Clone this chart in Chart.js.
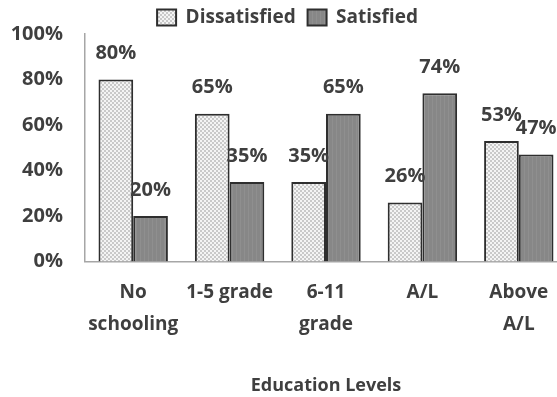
<!DOCTYPE html>
<html>
<head>
<meta charset="utf-8">
<script src="https://cdn.jsdelivr.net/npm/chart.js@4.4.1/dist/chart.umd.min.js"></script>
<style>
  html, body { margin: 0; padding: 0; background: #fff; overflow: hidden; }
  #wrap { width: 557px; height: 397px; overflow: hidden; }
</style>
</head>
<body>
<div id="wrap"><canvas id="chart" width="575" height="397"></canvas></div>
<script>
// data
const categories = [['No', 'schooling'], '1-5 grade', ['6-11', 'grade'], 'A/L', ['Above', 'A/L']];
const seriesNames = ['Dissatisfied', 'Satisfied'];
const dissatisfied = [80, 65, 35, 26, 53];
const satisfied = [20, 35, 65, 74, 47];
const yTicks = [0, 20, 40, 60, 80, 100];

const textColor = '#3f3f3f';
const fontFamily = '"Open Sans", "Liberation Sans", sans-serif';

// dotted light fill for the Dissatisfied bars
function dotPattern() {
  const c = document.createElement('canvas');
  c.width = 4; c.height = 4;
  const g = c.getContext('2d');
  g.fillStyle = '#c9c9c9';
  g.fillRect(0, 0, 4, 4);
  g.fillStyle = '#f4f4f4';
  g.fillRect(0, 0, 2, 2);
  g.fillRect(2, 2, 2, 2);
  return g.createPattern(c, 'repeat');
}

// darker grey fill for the Satisfied bars
function greyPattern() {
  const c = document.createElement('canvas');
  c.width = 4; c.height = 4;
  const g = c.getContext('2d');
  g.fillStyle = '#878787';
  g.fillRect(0, 0, 4, 4);
  g.fillStyle = '#8f8f8f';
  g.fillRect(0, 0, 1, 4);
  return g.createPattern(c, 'repeat');
}

// value labels above each bar (+ nudge the legend down a little)
const valueLabels = {
  id: 'valueLabels',
  afterLayout(chart) {
    chart.legend.top += 3;
    chart.legend.bottom += 3;
  },
  afterDatasetsDraw(chart) {
    const ctx = chart.ctx;
    ctx.save();
    ctx.font = 'bold 20px ' + fontFamily;
    ctx.fillStyle = textColor;
    ctx.textAlign = 'center';
    ctx.textBaseline = 'middle';
    chart.data.datasets.forEach((ds, i) => {
      chart.getDatasetMeta(i).data.forEach((bar, j) => {
        ctx.fillText(ds.data[j] + '%', bar.x, bar.y - 26);
      });
    });
    ctx.restore();
  }
};

new Chart(document.getElementById('chart').getContext('2d'), {
  type: 'bar',
  data: {
    labels: categories,
    datasets: [
      {
        label: seriesNames[0],
        data: dissatisfied,
        backgroundColor: dotPattern(),
        borderColor: '#2e2e2e',
        borderWidth: 2,
        borderSkipped: 'bottom'
      },
      {
        label: seriesNames[1],
        data: satisfied,
        backgroundColor: greyPattern(),
        borderColor: '#2e2e2e',
        borderWidth: 2,
        borderSkipped: 'bottom'
      }
    ]
  },
  options: {
    responsive: false,
    animation: false,
    layout: { padding: { left: 8, right: 8, top: 0, bottom: 0 } },
    datasets: { bar: { categoryPercentage: 0.72, barPercentage: 1 } },
    plugins: {
      legend: {
        position: 'top',
        labels: {
          color: textColor,
          font: { family: fontFamily, size: 19, weight: 'bold' },
          boxWidth: 19,
          boxHeight: 16,
          padding: 2,
          // a little gap between the two legend entries
          generateLabels(chart) {
            const items = Chart.defaults.plugins.legend.labels.generateLabels(chart);
            items.forEach((it, i) => { if (i < items.length - 1) it.text += '  '; });
            return items;
          }
        }
      },
      tooltip: { enabled: false }
    },
    scales: {
      x: {
        grid: { display: false, drawTicks: false },
        border: { color: '#a6a6a6', width: 1.5 },
        ticks: {
          color: textColor,
          padding: 15,
          maxRotation: 0,
          autoSkip: false,
          font: { family: fontFamily, size: 19, weight: 'bold', lineHeight: 1.68 }
        },
        title: {
          display: true,
          text: 'Education Levels',
          color: textColor,
          padding: { top: 20, bottom: 0 },
          font: { family: fontFamily, size: 18, weight: 'bold' }
        }
      },
      y: {
        min: yTicks[0],
        max: yTicks[yTicks.length - 1],
        afterBuildTicks(axis) { axis.ticks = yTicks.map(v => ({ value: v })); },
        afterFit(axis) { axis.width = 77; },
        grid: { display: false, drawTicks: false },
        border: { color: '#a6a6a6', width: 1.5 },
        ticks: {
          color: textColor,
          padding: 22,
          font: { family: fontFamily, size: 20, weight: 'bold' },
          callback: v => v + '%'
        }
      }
    }
  },
  plugins: [valueLabels]
});
</script>
</body>
</html>
